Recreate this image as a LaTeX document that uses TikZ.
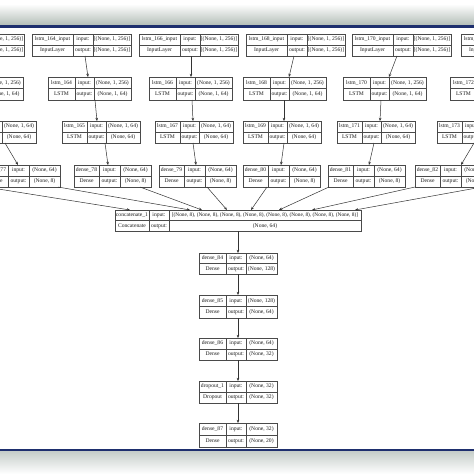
\documentclass[tikz,border=0pt]{standalone}
\usepackage{fontspec}
\setmainfont{Liberation Serif}
\usetikzlibrary{arrows.meta}
\definecolor{navy}{HTML}{1E2F6E}
\definecolor{bandg}{HTML}{B4BEB8}
\definecolor{boxc}{HTML}{4A4A4A}
\definecolor{txtc}{HTML}{1E1E1E}
\tikzset{
 kframe/.style={draw=boxc, line width=0.5pt, inner sep=0pt, outer sep=0pt, anchor=north west},
 kcell/.style={inner sep=0pt, font=\fontsize{5.6}{6.4}\selectfont, text=txtc, text height=3.9pt, text depth=1.2pt},
 kline/.style={draw=boxc, line width=0.5pt},
 karrow/.style={draw=black!80, line width=0.5pt, -{Stealth[length=3.2pt,width=2.6pt]}},
}
\newcommand\kbox[7]{%
 \def\kn{#1}\def\kwA{#4}\def\kwB{#5}\def\kwC{#6}\def\kh{#7}%
 \node[kframe, minimum width={(#4+#5+#6)*1pt}, minimum height={2*#7*1pt}] (#1) at (#2,#3) {};
 \draw[kline] (#1.west) -- (#1.east);
 \draw[kline] ([xshift={#4*1pt}]#1.north west) -- ([xshift={#4*1pt}]#1.south west);
 \draw[kline] ([xshift={(#4+#5)*1pt}]#1.north west) -- ([xshift={(#4+#5)*1pt}]#1.south west);
}
\newcommand\ktx[4]{%
 \node[kcell] (\kn-l) at ([xshift={\kwA/2*1pt}, yshift={-\kh/2*1pt}]\kn.north west) {#1};
 \node[kcell] (\kn-t) at ([xshift={\kwA/2*1pt}, yshift={-1.5*\kh*1pt}]\kn.north west) {#2};
 \node[kcell] (\kn-i) at ([xshift={(\kwA+\kwB/2)*1pt}, yshift={-\kh/2*1pt}]\kn.north west) {input:};
 \node[kcell] (\kn-o) at ([xshift={(\kwA+\kwB/2)*1pt}, yshift={-1.5*\kh*1pt}]\kn.north west) {output:};
 \node[kcell] (\kn-a) at ([xshift={(\kwA+\kwB+\kwC/2)*1pt}, yshift={-\kh/2*1pt}]\kn.north west) {#3};
 \node[kcell] (\kn-b) at ([xshift={(\kwA+\kwB+\kwC/2)*1pt}, yshift={-1.5*\kh*1pt}]\kn.north west) {#4};
}
\newcommand\kconn[4]{\draw[karrow] ([xshift={#2*1pt}]#1.south west) -- ([xshift={#4*1pt}]#3.north west);}
\begin{document}
\begin{tikzpicture}[x=1pt,y=-1pt]
\useasboundingbox (0,0) rectangle (474,474);
\clip (0,0) rectangle (474,474);
\fill[white] (0,0) rectangle (474,474);
\shade[top color=white, bottom color=bandg] (0,4) rectangle (474,25);
\fill[navy] (0,25) rectangle (474,27.5);
\fill[navy] (0,449) rectangle (474,451.5);
\shade[top color=bandg!75, bottom color=white] (0,451.5) rectangle (474,474);

% row 1: input layers
\kbox{i162}{-75}{34}{41}{20}{38}{11}\ktx{lstm\_162\_input}{InputLayer}{[(None, 1, 256)]}{[(None, 1, 256)]}
\kbox{i164}{32}{34}{41}{20}{38}{11}\ktx{lstm\_164\_input}{InputLayer}{[(None, 1, 256)]}{[(None, 1, 256)]}
\kbox{i166}{139}{34}{41}{20}{38}{11}\ktx{lstm\_166\_input}{InputLayer}{[(None, 1, 256)]}{[(None, 1, 256)]}
\kbox{i168}{246}{34}{41}{20}{38}{11}\ktx{lstm\_168\_input}{InputLayer}{[(None, 1, 256)]}{[(None, 1, 256)]}
\kbox{i170}{352}{34}{41}{20}{38}{11}\ktx{lstm\_170\_input}{InputLayer}{[(None, 1, 256)]}{[(None, 1, 256)]}
\kbox{i172}{461}{34}{41}{20}{38}{11}\ktx{lstm\_172\_input}{InputLayer}{[(None, 1, 256)]}{[(None, 1, 256)]}

% row 2: first LSTM
\kbox{l162}{-60}{77}{27}{19}{37}{11.5}\ktx{lstm\_162}{LSTM}{(None, 1, 256)}{(None, 1, 64)}
\kbox{l164}{48}{77}{27}{19}{37}{11.5}\ktx{lstm\_164}{LSTM}{(None, 1, 256)}{(None, 1, 64)}
\kbox{l166}{149}{77}{27}{19}{37}{11.5}\ktx{lstm\_166}{LSTM}{(None, 1, 256)}{(None, 1, 64)}
\kbox{l168}{243}{77}{27}{19}{37}{11.5}\ktx{lstm\_168}{LSTM}{(None, 1, 256)}{(None, 1, 64)}
\kbox{l170}{343}{77}{27}{19}{37}{11.5}\ktx{lstm\_170}{LSTM}{(None, 1, 256)}{(None, 1, 64)}
\kbox{l172}{450}{77}{27}{19}{37}{11.5}\ktx{lstm\_172}{LSTM}{(None, 1, 256)}{(None, 1, 64)}

% row 3: second LSTM
\kbox{l163}{-42}{121}{25}{19}{34}{11}\ktx{lstm\_163}{LSTM}{(None, 1, 64)}{(None, 64)}
\kbox{l165}{62}{121}{25}{19}{34}{11}\ktx{lstm\_165}{LSTM}{(None, 1, 64)}{(None, 64)}
\kbox{l167}{155}{121}{25}{19}{34}{11}\ktx{lstm\_167}{LSTM}{(None, 1, 64)}{(None, 64)}
\kbox{l169}{243}{121}{25}{19}{34}{11}\ktx{lstm\_169}{LSTM}{(None, 1, 64)}{(None, 64)}
\kbox{l171}{337}{121}{25}{19}{34}{11}\ktx{lstm\_171}{LSTM}{(None, 1, 64)}{(None, 64)}
\kbox{l173}{437}{121}{25}{19}{34}{11}\ktx{lstm\_173}{LSTM}{(None, 1, 64)}{(None, 64)}

% row 4: dense
\kbox{d77}{-17}{165}{25}{21}{31}{11}\ktx{dense\_77}{Dense}{(None, 64)}{(None, 8)}
\kbox{d78}{74}{165}{25}{21}{31}{11}\ktx{dense\_78}{Dense}{(None, 64)}{(None, 8)}
\kbox{d79}{159}{165}{25}{21}{31}{11}\ktx{dense\_79}{Dense}{(None, 64)}{(None, 8)}
\kbox{d80}{243}{165}{25}{21}{31}{11}\ktx{dense\_80}{Dense}{(None, 64)}{(None, 8)}
\kbox{d81}{328}{165}{25}{21}{31}{11}\ktx{dense\_81}{Dense}{(None, 64)}{(None, 8)}
\kbox{d82}{415}{165}{25}{21}{31}{11}\ktx{dense\_82}{Dense}{(None, 64)}{(None, 8)}

% concatenate
\kbox{cc}{115}{210}{34}{20}{192}{10.5}\ktx{concatenate\_1}{Concatenate}{\fontsize{5.35}{6}\selectfont[(None, 8), (None, 8), (None, 8), (None, 8), (None, 8), (None, 8), (None, 8), (None, 8)]}{(None, 64)}

% lower chain
\kbox{d84}{199}{253}{27}{20}{31}{10.5}\ktx{dense\_84}{Dense}{(None, 64)}{(None, 128)}
\kbox{d85}{199}{295}{27}{20}{31}{11.5}\ktx{dense\_85}{Dense}{(None, 128)}{(None, 64)}
\kbox{d86}{199}{338}{27}{20}{31}{11}\ktx{dense\_86}{Dense}{(None, 64)}{(None, 32)}
\kbox{dr1}{199}{381}{27}{20}{31}{11}\ktx{dropout\_1}{Dropout}{(None, 32)}{(None, 32)}
\kbox{d87}{199}{423}{27}{20}{31}{12}\ktx{dense\_87}{Dense}{(None, 32)}{(None, 20)}

% connectors row1 -> row2
\kconn{i164}{53}{l164}{40}
\kconn{i166}{52}{l166}{42}
\kconn{i168}{48}{l168}{46}
\kconn{i170}{45}{l170}{46}
% row2 -> row3
\kconn{l164}{47}{l165}{35}
\kconn{l166}{43}{l167}{38}
\kconn{l168}{41}{l169}{41}
\kconn{l170}{38}{l171}{43}
% row3 -> row4
\kconn{l163}{47}{d77}{35}
\kconn{l165}{43}{d78}{34}
\kconn{l167}{38}{d79}{37}
\kconn{l169}{41}{d80}{38}
\kconn{l171}{37}{d81}{41}
\kconn{l173}{37}{d82}{46}
% dense -> concatenate
\coordinate (offL) at (-8,188);
\coordinate (offR) at (482,187);
\draw[karrow] (offL) -- ([xshift=15pt]cc.north west);
\kconn{d77}{75}{cc}{75}
\kconn{d78}{66}{cc}{87}
\kconn{d79}{48}{cc}{112}
\kconn{d80}{24}{cc}{136}
\kconn{d81}{1}{cc}{164}
\kconn{d82}{0}{cc}{197}
\draw[karrow] (offR) -- ([xshift=240pt]cc.north west);
% chain
\kconn{cc}{123}{d84}{39}
\kconn{d84}{39}{d85}{39}
\kconn{d85}{39}{d86}{39}
\kconn{d86}{39}{dr1}{39}
\kconn{dr1}{39}{d87}{39}
\end{tikzpicture}
\end{document}
